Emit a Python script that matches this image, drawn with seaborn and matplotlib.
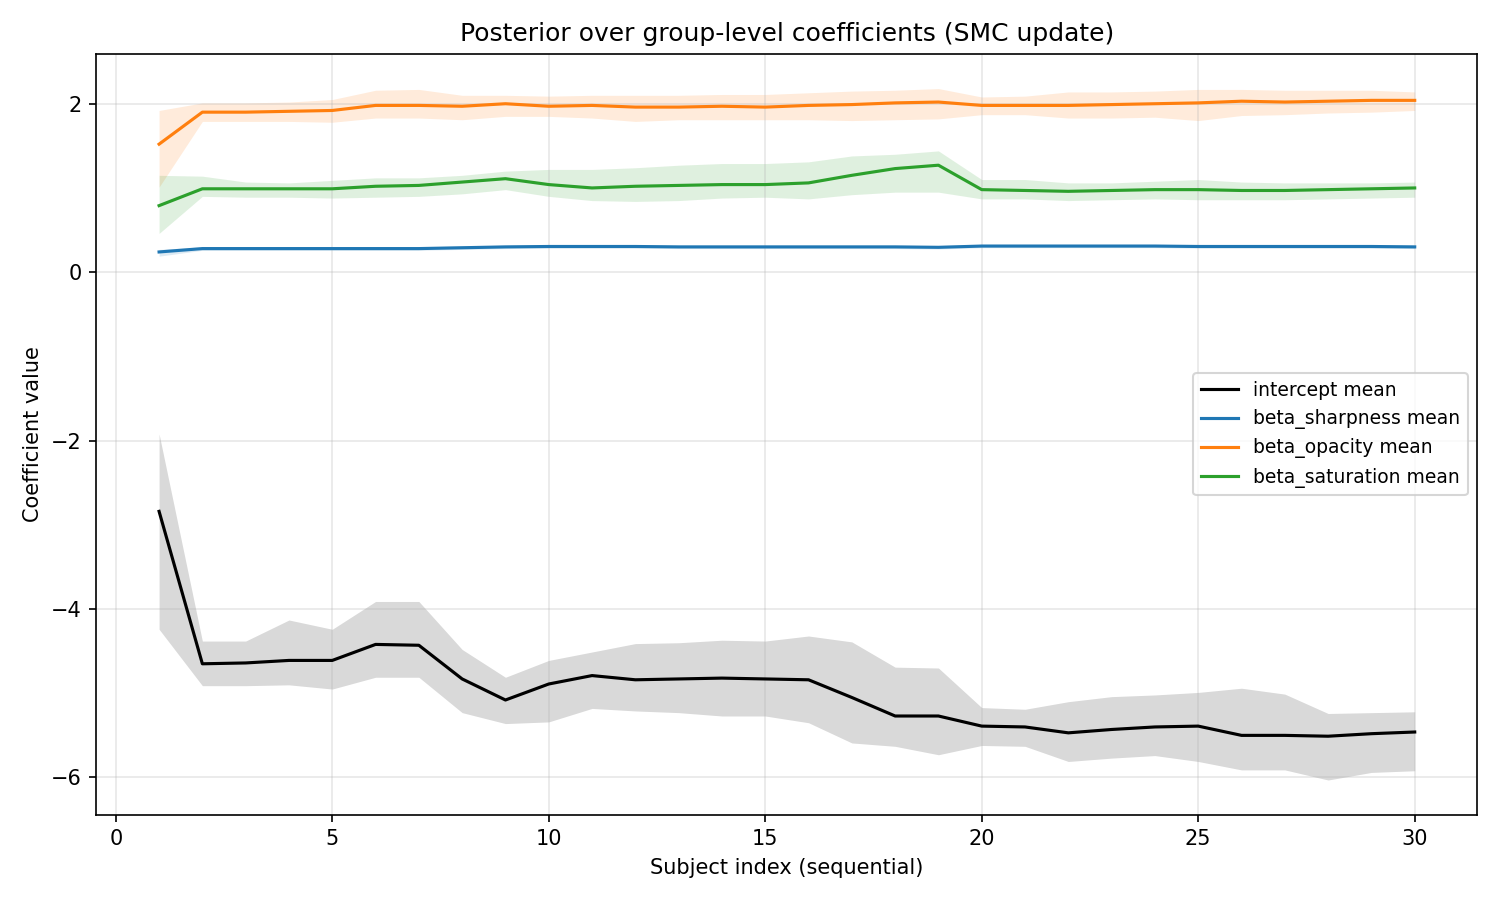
import numpy as np
import pandas as pd
import matplotlib
matplotlib.use("Agg")
import matplotlib.pyplot as plt
import seaborn as sns

subjects = list(range(1, 31))

intercept_mean = [-2.84, -4.65, -4.64, -4.61, -4.61, -4.42, -4.43, -4.83, -5.08, -4.89,
                  -4.79, -4.84, -4.83, -4.82, -4.83, -4.84, -5.05, -5.27, -5.27, -5.39,
                  -5.40, -5.47, -5.43, -5.40, -5.39, -5.50, -5.50, -5.51, -5.48, -5.46]
intercept_hi = [-1.92, -4.38, -4.38, -4.13, -4.24, -3.91, -3.91, -4.48, -4.81, -4.61,
                -4.51, -4.41, -4.40, -4.37, -4.38, -4.32, -4.39, -4.69, -4.70, -5.17,
                -5.19, -5.10, -5.04, -5.02, -4.99, -4.94, -5.01, -5.24, -5.23, -5.22]
intercept_lo = [-4.24, -4.91, -4.91, -4.90, -4.95, -4.81, -4.81, -5.23, -5.36, -5.34,
                -5.18, -5.21, -5.23, -5.27, -5.27, -5.35, -5.59, -5.63, -5.73, -5.62,
                -5.63, -5.81, -5.77, -5.74, -5.81, -5.91, -5.91, -6.03, -5.94, -5.92]

sharp_mean = [0.24, 0.28, 0.28, 0.28, 0.28, 0.28, 0.28, 0.29, 0.30, 0.305,
              0.305, 0.305, 0.30, 0.30, 0.30, 0.30, 0.30, 0.30, 0.295, 0.31,
              0.31, 0.31, 0.31, 0.31, 0.305, 0.305, 0.305, 0.305, 0.305, 0.30]
sharp_hi = [0.27, 0.30, 0.30, 0.30, 0.30, 0.30, 0.30, 0.31, 0.32, 0.325,
            0.325, 0.325, 0.32, 0.32, 0.32, 0.32, 0.32, 0.32, 0.315, 0.33,
            0.33, 0.33, 0.33, 0.33, 0.325, 0.325, 0.325, 0.325, 0.325, 0.32]
sharp_lo = [0.19, 0.26, 0.26, 0.26, 0.26, 0.26, 0.26, 0.27, 0.28, 0.285,
            0.285, 0.285, 0.28, 0.28, 0.28, 0.28, 0.28, 0.28, 0.275, 0.29,
            0.29, 0.29, 0.29, 0.29, 0.285, 0.285, 0.285, 0.285, 0.285, 0.28]

opac_mean = [1.52, 1.90, 1.90, 1.91, 1.92, 1.98, 1.98, 1.97, 2.00, 1.97,
             1.98, 1.96, 1.96, 1.97, 1.96, 1.98, 1.99, 2.01, 2.02, 1.98,
             1.98, 1.98, 1.99, 2.00, 2.01, 2.03, 2.02, 2.03, 2.04, 2.04]
opac_hi = [1.92, 2.01, 2.01, 2.02, 2.05, 2.16, 2.17, 2.10, 2.10, 2.09,
           2.10, 2.10, 2.10, 2.11, 2.11, 2.13, 2.15, 2.16, 2.18, 2.08,
           2.09, 2.14, 2.14, 2.15, 2.17, 2.17, 2.16, 2.16, 2.16, 2.14]
opac_lo = [1.01, 1.79, 1.79, 1.79, 1.78, 1.83, 1.83, 1.81, 1.85, 1.85,
           1.83, 1.79, 1.81, 1.81, 1.81, 1.81, 1.80, 1.81, 1.82, 1.87,
           1.87, 1.83, 1.83, 1.84, 1.80, 1.86, 1.87, 1.89, 1.90, 1.92]

sat_mean = [0.79, 0.99, 0.99, 0.99, 0.99, 1.02, 1.03, 1.07, 1.11, 1.04,
            1.00, 1.02, 1.03, 1.04, 1.04, 1.06, 1.15, 1.23, 1.27, 0.98,
            0.97, 0.96, 0.97, 0.98, 0.98, 0.97, 0.97, 0.98, 0.99, 1.00]
sat_hi = [1.15, 1.14, 1.07, 1.06, 1.09, 1.12, 1.12, 1.15, 1.20, 1.22,
          1.22, 1.24, 1.27, 1.29, 1.29, 1.31, 1.38, 1.40, 1.44, 1.10,
          1.10, 1.06, 1.06, 1.08, 1.10, 1.07, 1.06, 1.06, 1.06, 1.07]
sat_lo = [0.46, 0.90, 0.89, 0.89, 0.88, 0.89, 0.90, 0.93, 0.98, 0.90,
          0.85, 0.84, 0.85, 0.88, 0.89, 0.87, 0.92, 0.95, 0.95, 0.87,
          0.87, 0.85, 0.86, 0.87, 0.86, 0.86, 0.86, 0.87, 0.88, 0.89]

series_names = ["intercept mean", "beta_sharpness mean", "beta_opacity mean", "beta_saturation mean"]
colors = ["black", "#1f77b4", "#ff7f0e", "#2ca02c"]
means = [intercept_mean, sharp_mean, opac_mean, sat_mean]
highs = [intercept_hi, sharp_hi, opac_hi, sat_hi]
lows = [intercept_lo, sharp_lo, opac_lo, sat_lo]

rows = []
for name, m in zip(series_names, means):
    for s, v in zip(subjects, m):
        rows.append({"subject": s, "value": v, "series": name})
df = pd.DataFrame(rows)

fig, ax = plt.subplots(figsize=(10, 6), dpi=150)

for c, lo, hi in zip(colors, lows, highs):
    ax.fill_between(subjects, lo, hi, color=c, alpha=0.15, linewidth=0)

sns.lineplot(data=df, x="subject", y="value", hue="series", hue_order=series_names,
             palette=dict(zip(series_names, colors)), ax=ax, linewidth=1.5)

ax.set_title("Posterior over group-level coefficients (SMC update)")
ax.set_xlabel("Subject index (sequential)")
ax.set_ylabel("Coefficient value")
ax.grid(True, alpha=0.3)
ax.legend(loc="center right", title=None, fontsize=9)

fig.tight_layout()
fig.savefig("out.png", dpi=150)
